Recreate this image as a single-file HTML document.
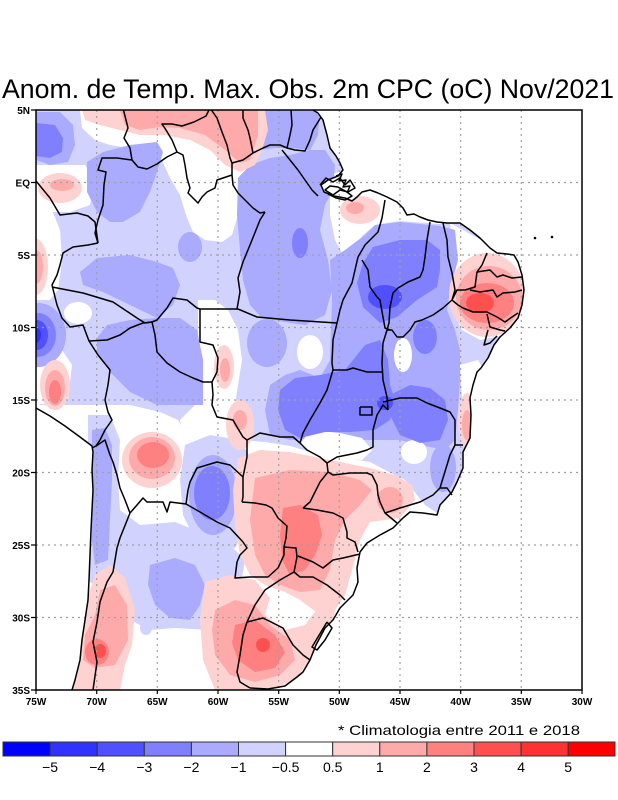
<!DOCTYPE html>
<html><head><meta charset="utf-8"><style>
html,body{margin:0;padding:0;background:#fff;}
svg{display:block;}
text{font-family:"Liberation Sans",sans-serif;}
</style></head><body>
<svg width="618" height="800" viewBox="0 0 618 800" xmlns="http://www.w3.org/2000/svg">
<defs>
<clipPath id="land"><path d="M36,110 L313,110 L318,113 L323,120 L327,135 L330,148 L336,156 L340,163 L343,170 L338,176 L328,180 L321,185 L324,192 L334,196 L345,198 L352,201 L357,197 L362,192 L370,190 L378,193 L387,197 L397,202 L403,208 L407,215 L414,214 L420,217 L428,220 L437,222 L447,223 L460,223 L470,230 L480,238 L490,248 L497,253 L507,254 L514,255 L518,262 L522,275 L524,290 L522,305 L518,318 L510,328 L500,337 L494,345 L488,358 L481,368 L477,372 L473,385 L470,398 L471,415 L470,438 L463,452 L463,468 L457,482 L452,492 L440,505 L437,515 L423,513 L410,512 L403,518 L393,528 L380,535 L367,543 L360,552 L357,568 L358,582 L353,595 L340,608 L333,620 L325,628 L316,645 L310,660 L303,672 L297,677 L285,686 L275,690 L72,690 L75,680 L80,660 L82,640 L85,620 L88,600 L89,580 L90,555 L91,530 L92,510 L93,490 L92,470 L93,452 L92,446 L80,437 L65,426 L50,416 L36,408 Z"/></clipPath>
<clipPath id="frame"><rect x="36" y="110" width="546" height="580"/></clipPath>
</defs>
<rect width="618" height="800" fill="#fff"/>
<text x="2" y="98" font-size="27" textLength="612" lengthAdjust="spacingAndGlyphs" fill="#000">Anom. de Temp. Max. Obs. 2m CPC (oC) Nov/2021</text>

<g clip-path="url(#land)">
<!-- lavender -->
<path fill="#d2d2ff" d="M36,110 L600,110 L600,520 L455,515 L440,515 L425,505 L405,480 L385,470 L370,462 L345,458 L310,452 L290,446 L265,442 L240,440 L215,445 L190,440 L178,420 L160,412 L130,405 L36,405 Z"/>
<!-- whites -->
<g fill="#fff">
<path d="M80,110 L260,110 L262,130 L258,150 L248,168 L243,190 L238,215 L232,235 L222,242 L205,240 L193,232 L186,215 L180,195 L170,178 L162,160 L150,150 L130,148 L110,145 L95,140 L82,128 Z"/>
<path d="M36,165 L85,165 L95,180 L90,205 L70,212 L50,212 L36,215 Z"/>
<path d="M36,200 L50,205 L60,230 L62,260 L58,290 L50,300 L36,300 Z"/>
<path d="M36,350 L62,350 L72,365 L68,400 L36,405 Z"/>
<ellipse cx="78" cy="313" rx="14" ry="11"/>
<path d="M198,300 L215,300 L228,310 L238,330 L242,360 L238,385 L235,405 L232,440 L220,448 L205,448 L185,445 L180,420 L195,405 L200,380 L198,340 Z"/>
<path d="M450,223 L490,245 L530,250 L530,345 L505,335 L480,340 L462,330 L452,310 L450,285 L455,260 Z"/>
<path d="M330,175 L345,170 L375,180 L400,190 L420,205 L445,216 L458,222 L440,224 L400,221 L375,225 L362,236 L358,252 L343,255 L335,240 L330,215 Z"/>
<path d="M460,365 L478,360 L490,380 L485,400 L462,400 Z"/>
</g>
<path fill="#d2d2ff" d="M185,445 L210,435 L240,440 L252,460 L250,500 L245,530 L235,548 L215,550 L195,540 L183,515 L180,480 Z"/>
<path fill="#d2d2ff" d="M88,415 L110,415 L120,440 L118,480 L120,510 L140,525 L175,522 L195,530 L230,545 L245,560 L240,590 L230,615 L210,630 L175,628 L150,630 L130,620 L115,600 L100,590 L88,580 Z"/>
<ellipse cx="146" cy="628" rx="6" ry="7" fill="#d2d2ff"/>

<!-- aaaaff -->
<g fill="#aaaaff">
<path d="M36,112 L60,112 L73,125 L75,145 L68,162 L50,165 L36,160 Z"/>
<path d="M87,162 L103,152 L130,145 L157,142 L163,152 L157,172 L150,192 L140,212 L123,222 L110,222 L97,212 L87,192 Z"/>
<path d="M80,272 L97,258 L130,255 L157,262 L173,268 L180,285 L173,305 L157,318 L130,305 L103,292 L83,285 Z"/>
<ellipse cx="190" cy="247" rx="12" ry="15"/>
<path d="M238,178 L250,165 L270,158 L290,155 L310,150 L325,150 L335,165 L333,190 L325,205 L320,230 L328,260 L332,290 L325,315 L305,325 L285,322 L262,318 L250,305 L243,280 L240,250 L237,215 Z"/>
<path d="M245,110 L320,110 L318,135 L310,150 L292,148 L275,148 L260,150 L248,140 Z"/>
<path d="M97,338 L107,325 L130,320 L157,318 L180,318 L197,330 L203,360 L203,405 L180,405 L157,405 L130,392 L110,372 L97,352 Z"/>
<ellipse cx="267" cy="343" rx="20" ry="24"/>
<path d="M330,260 L345,250 L365,235 L375,225 L400,222 L440,226 L455,230 L458,260 L450,290 L447,310 L455,330 L460,350 L460,380 L458,410 L455,440 L445,450 L420,445 L400,440 L375,440 L350,440 L320,438 L290,440 L270,435 L265,410 L270,385 L285,375 L300,370 L320,378 L330,360 L332,300 Z"/>
<ellipse cx="443" cy="468" rx="13" ry="24"/>
<ellipse cx="213" cy="495" rx="24" ry="40"/>
<path d="M92,430 L105,428 L112,445 L112,480 L110,520 L108,560 L95,565 L92,540 Z"/>
<path d="M150,565 L175,558 L195,565 L205,585 L200,605 L190,620 L170,618 L155,605 L148,585 Z"/>
<ellipse cx="38" cy="335" rx="28" ry="32"/>
</g>
<g fill="#fff">
<ellipse cx="310" cy="352" rx="13" ry="17"/>
<ellipse cx="403" cy="355" rx="9" ry="17"/>
<path d="M300,445 L310,430 L340,433 L362,438 L372,450 L362,460 L335,458 L310,452 Z"/>
<ellipse cx="414" cy="452" rx="13" ry="12"/>
</g>

<!-- 8080ff -->
<g fill="#8080ff">
<path d="M36,123 L55,125 L63,138 L62,152 L50,158 L36,156 Z"/>
<ellipse cx="300" cy="243" rx="8" ry="15"/>
<path d="M363,263 L373,247 L400,240 L427,240 L440,250 L440,270 L437,287 L417,300 L397,317 L380,323 L363,307 L357,283 Z"/>
<path d="M280,390 L295,378 L320,375 L345,370 L365,345 L380,340 L388,360 L390,385 L395,400 L390,420 L375,430 L350,432 L325,432 L300,438 L285,430 L278,410 Z"/>
<path d="M390,395 L410,385 L430,388 L445,400 L448,420 L440,440 L420,443 L400,435 L390,415 Z"/>
<ellipse cx="425" cy="337" rx="12" ry="17"/>
<ellipse cx="212" cy="493" rx="18" ry="27"/>
<ellipse cx="38" cy="335" rx="18" ry="22"/>
</g>
<g fill="#5050ff">
<ellipse cx="37" cy="335" rx="11" ry="15"/>
<ellipse cx="385" cy="297" rx="17" ry="12"/>
<ellipse cx="385" cy="403" rx="8" ry="7"/>
</g>
<ellipse cx="36" cy="335" rx="5" ry="8" fill="#3232ff"/>

<!-- pinks -->
<path fill="#ffd2d2" d="M82,110 L265,110 L268,130 L262,150 L255,165 L240,172 L225,165 L210,150 L190,140 L165,135 L140,135 L120,130 L100,125 L85,120 Z"/>
<path fill="#ffaaaa" d="M120,110 L258,110 L258,135 L250,160 L240,163 L225,150 L205,135 L180,128 L160,127 L140,130 L125,125 Z"/>
<ellipse cx="60" cy="188" rx="22" ry="15" fill="#ffd2d2"/>
<ellipse cx="62" cy="185" rx="12" ry="6" fill="#ffaaaa"/>
<ellipse cx="36" cy="267" rx="12" ry="28" fill="#ffd2d2"/>
<ellipse cx="36" cy="267" rx="7" ry="17" fill="#ffaaaa"/>
<ellipse cx="55" cy="385" rx="15" ry="25" fill="#ffd2d2"/>
<ellipse cx="55" cy="388" rx="10" ry="18" fill="#ffaaaa"/>
<ellipse cx="55" cy="392" rx="6" ry="12" fill="#ff8080"/>
<ellipse cx="360" cy="210" rx="20" ry="14" fill="#ffd2d2"/>
<ellipse cx="355" cy="208" rx="9" ry="6" fill="#ffaaaa"/>
<ellipse cx="487" cy="295" rx="38" ry="42" fill="#ffd2d2"/>
<ellipse cx="489" cy="298" rx="33" ry="32" fill="#ffaaaa"/>
<ellipse cx="487" cy="303" rx="27" ry="20" fill="#ff8080"/>
<ellipse cx="480" cy="303" rx="14" ry="10" fill="#ff5050"/>
<ellipse cx="467" cy="420" rx="9" ry="27" fill="#ffd2d2"/>
<ellipse cx="467" cy="425" rx="5" ry="15" fill="#ffaaaa"/>
<ellipse cx="224" cy="367" rx="10" ry="22" fill="#ffd2d2"/>
<ellipse cx="225" cy="370" rx="5" ry="12" fill="#ffaaaa"/>
<ellipse cx="240" cy="425" rx="14" ry="25" fill="#ffd2d2"/>
<ellipse cx="240" cy="420" rx="7" ry="10" fill="#ffaaaa"/>
<ellipse cx="152" cy="460" rx="30" ry="28" fill="#ffd2d2"/>
<ellipse cx="152" cy="458" rx="23" ry="21" fill="#ffaaaa"/>
<ellipse cx="153" cy="455" rx="16" ry="13" fill="#ff8080"/>
<path fill="#ffd2d2" d="M238,458 L260,450 L290,452 L310,456 L340,462 L370,468 L395,475 L412,485 L415,500 L400,518 L370,522 L360,540 L352,570 L345,595 L335,610 L320,615 L300,600 L285,592 L265,585 L250,575 L240,555 L235,525 L233,490 Z"/>
<path fill="#ffaaaa" d="M255,478 L290,470 L330,472 L360,480 L372,490 L360,505 L345,520 L335,540 L330,570 L320,590 L300,592 L280,585 L265,575 L255,555 L250,520 Z"/>
<ellipse cx="390" cy="500" rx="13" ry="13" fill="#ffaaaa"/>
<path fill="#ff8080" d="M283,508 L300,505 L318,515 L322,535 L315,555 L305,570 L290,575 L282,560 L280,535 Z"/>
<path fill="#ffd2d2" d="M205,582 L230,575 L255,580 L270,598 L265,615 L285,630 L305,625 L320,605 L335,610 L330,640 L310,660 L295,680 L270,690 L215,690 L203,660 L200,620 Z"/>
<path fill="#ffaaaa" d="M215,610 L235,600 L255,605 L270,625 L290,640 L295,660 L280,675 L255,682 L230,675 L215,655 L212,630 Z"/>
<path fill="#ff8080" d="M235,625 L255,620 L275,635 L285,652 L275,668 L255,672 L238,660 L232,643 Z"/>
<ellipse cx="263" cy="645" rx="7" ry="7" fill="#ff5050"/>
<path fill="#ffd2d2" d="M95,575 L110,565 L125,578 L135,610 L132,645 L125,665 L120,690 L72,690 L78,650 L85,615 L90,590 Z"/>
<path fill="#ffaaaa" d="M100,590 L115,585 L127,605 L128,640 L115,665 L95,668 L83,660 L85,635 L95,615 Z"/>
<ellipse cx="97" cy="652" rx="12" ry="13" fill="#ff8080"/>
<ellipse cx="100" cy="651" rx="6" ry="7" fill="#ff5050"/>
</g>

<!-- grid -->
<g stroke="#a0a0a0" stroke-width="1.2" stroke-dasharray="2 4" fill="none">
<path d="M96.7,110 V690 M157.3,110 V690 M218,110 V690 M278.7,110 V690 M339.3,110 V690 M400,110 V690 M460.7,110 V690 M521.3,110 V690"/>
<path d="M36,182.5 H582 M36,255 H582 M36,327.5 H582 M36,400 H582 M36,472.5 H582 M36,545 H582 M36,617.5 H582"/>
</g>

<!-- borders -->
<g clip-path="url(#frame)" stroke="#000" stroke-width="1.5" fill="none" stroke-linejoin="round">
<polyline points="313,110 318,113 323,120 327,135 330,148 336,156 340,163 343,170 338,176 328,180 321,185 324,192 334,196 345,198 352,201 357,197 362,192 370,190 378,193 387,197 397,202 403,208 407,215 414,214 420,217 428,220 437,222 447,223 460,223 470,230 480,238 490,248 497,253 507,254 514,255 518,262 522,275 524,290 522,305 518,318 510,328 500,337 494,345 488,358 481,368 477,372 473,385 470,398 471,415 470,438 463,452 463,468 457,482 452,492 440,505 437,515 423,513 410,512 403,518 393,528 380,535 367,543 360,552 357,568 358,582 353,595 340,608 333,620 325,628 316,645 310,660 303,672 297,677 285,686 268,689 250,688"/>
<polyline points="72,690 75,680 80,660 82,640 85,620 88,600 89,580 90,555 91,530 92,510 93,490 92,470 93,452 92,446 80,437 65,426 50,416 36,408"/>
<polyline points="320,185 326,178 333,182 340,178 345,185 350,180 355,188 348,192 340,190 333,195 325,190 330,186 338,187 347,192 352,196 345,200 336,198 328,194"/>
<polyline points="336,176 342,174 339,181 346,180 343,187 350,186 347,193"/>
<polyline points="327,622 332,628 325,640 317,650 312,647 318,637 327,622"/>
<polyline points="123,108 128,128 124,138 130,148 132,160"/>
<polyline points="132,160 138,167 147,169 157,164 167,157 177,152"/>
<polyline points="177,152 172,140 166,130 162,124 172,124 182,126 194,122 206,116 210,108"/>
<polyline points="177,152 183,155 185,165 187,178 190,188 188,193 193,198 198,203 202,197 207,192 215,188 217,180 232,175"/>
<polyline points="210,108 217,118 222,132 227,145 230,158 232,163"/>
<polyline points="232,163 243,160 253,153 263,148 270,145 280,145 287,148 295,150 305,151 310,140 313,130 318,122 321,117"/>
<polyline points="253,153 250,138 248,130 243,118 243,110"/>
<polyline points="287,148 290,135 292,125 291,110"/>
<polyline points="282,150 290,160 298,170 305,180 312,190 318,196"/>
<polyline points="232,163 232,175 233,185 238,193 247,202 253,208 260,213 265,212"/>
<polyline points="265,212 260,220 250,245 243,262 238,278 240,292 237,309"/>
<polyline points="132,160 117,158 102,158 98,170 106,172 104,185 103,205 98,220 95,233 98,243"/>
<polyline points="36,181 50,198 60,215 77,213 88,216 95,222 98,243"/>
<polyline points="98,243 88,245 73,247 63,253 60,265 57,275 52,285 57,305 62,318 70,327 83,325 89,341"/>
<polyline points="52,287 83,293 113,302 137,318 145,323 152,322"/>
<polyline points="89,341 107,340 120,335 130,328 143,323 152,322 155,335 157,352 167,363 180,372 193,378 203,382 212,382 213,395 212,405 217,417 233,420 237,427 243,437 247,440 247,457 243,477 243,497 242,502"/>
<polyline points="152,322 157,320 167,308 173,298 187,300 197,308 200,309 238,309"/>
<polyline points="200,309 200,342 213,345 218,358 217,372 212,382"/>
<polyline points="238,309 257,317 290,320 337,323"/>
<polyline points="358,257 352,283 343,300 340,310 337,323 333,340 332,363 333,370 327,390 320,403 310,420 303,433 300,443"/>
<polyline points="385,200 382,218 378,232 372,238 365,245 358,257"/>
<polyline points="362,260 368,270 370,287 377,297 380,300 383,317 385,328 390,330"/>
<polyline points="430,222 427,240 425,257 423,270 420,277 408,282 398,288 393,293 390,307 389,323 387,330"/>
<polyline points="443,223 447,240 448,257 452,273 455,290 452,300 443,308 433,315 422,320 415,322 410,330 403,337 397,337 392,330 387,330"/>
<polyline points="387,330 383,343 382,363 383,380 387,397 388,410"/>
<polyline points="333,370 347,370 353,368 367,372 383,372"/>
<polyline points="487,253 482,265 477,272 475,287 465,290 457,290 452,300"/>
<polyline points="477,272 490,270 497,277 503,275 512,278 522,277"/>
<polyline points="470,290 480,292 493,290 497,297 503,293 515,292 522,290"/>
<polyline points="452,300 458,305 463,308 473,312 487,312 497,317 505,322 512,317 518,313"/>
<polyline points="487,314 490,327 500,330 505,331"/>
<polyline points="488,330 484,345 490,343 497,336"/>
<polyline points="383,402 400,398 417,398 427,403 440,408 450,412 455,420 455,445 463,445"/>
<polyline points="300,443 307,450 320,457 327,463 337,457 357,453 367,450 373,447 373,430 377,415 383,405 388,410"/>
<polyline points="360,407 372,407 372,415 360,415 360,407"/>
<polyline points="327,463 328,472 320,482 310,502 303,508"/>
<polyline points="328,472 333,475 350,473 367,473 372,475 377,485 378,495 380,502 385,513 397,523"/>
<polyline points="385,513 400,508 420,502 433,495 440,488 447,488 452,495"/>
<polyline points="440,488 443,478 447,465 450,455 455,445"/>
<polyline points="300,443 293,437 280,437 260,433 247,440"/>
<polyline points="303,508 317,510 333,513 343,518 347,532 347,538 355,542 358,552"/>
<polyline points="298,556 313,562 323,568 333,560 343,558 360,554"/>
<polyline points="294,572 300,577 313,577 327,585 340,595 345,600"/>
<polyline points="284,547 296,548 297,557 294,572 280,580 265,590 255,605 247,622"/>
<polyline points="247,622 263,618 283,628 293,645 303,655 310,660"/>
<polyline points="247,622 243,635 240,655 237,672 240,682 250,688"/>
<polyline points="186,504 200,512 217,522 230,528 243,542 247,548 240,555 237,562 235,578 250,577 268,577 278,568 284,555 284,547"/>
<polyline points="242,502 255,503 266,505 272,508 278,518 287,526 286,538 284,547"/>
<polyline points="186,504 188,490 190,482 197,468 217,462 230,465 243,477"/>
<polyline points="186,504 170,502 167,512 163,502 147,502 143,498 137,505 130,513"/>
<polyline points="96,446 105,440 110,455 113,462 117,475 120,488 125,500 130,513"/>
<polyline points="130,513 120,538 117,548 113,572 107,582 100,602 97,622 93,642 97,662 93,690"/>
<polyline points="89,341 98,355 110,370 108,385 105,400 108,412 112,420 105,430 100,440 96,446 92,448"/>
</g>
<circle cx="535" cy="238" r="1.3" fill="#000"/>
<circle cx="552" cy="237" r="1.3" fill="#000"/>

<!-- frame & ticks -->
<rect x="36" y="110" width="546" height="580" fill="none" stroke="#000" stroke-width="1.5"/>
<g stroke="#000" stroke-width="1.2">
<path d="M31,110 H36 M31,182.5 H36 M31,255 H36 M31,327.5 H36 M31,400 H36 M31,472.5 H36 M31,545 H36 M31,617.5 H36 M31,690 H36"/>
<path d="M36,690 V694 M96.7,690 V694 M157.3,690 V694 M218,690 V694 M278.7,690 V694 M339.3,690 V694 M400,690 V694 M460.7,690 V694 M521.3,690 V694 M582,690 V694"/>
</g>
<g font-size="10" font-weight="bold" text-anchor="end" fill="#000">
<text x="30" y="114">5N</text>
<text x="30" y="186.5">EQ</text>
<text x="30" y="259">5S</text>
<text x="30" y="331.5">10S</text>
<text x="30" y="404">15S</text>
<text x="30" y="476.5">20S</text>
<text x="30" y="549">25S</text>
<text x="30" y="621.5">30S</text>
<text x="30" y="694">35S</text>
</g>
<g font-size="10" font-weight="bold" text-anchor="middle" fill="#000">
<text x="36" y="705">75W</text>
<text x="96.7" y="705">70W</text>
<text x="157.3" y="705">65W</text>
<text x="218" y="705">60W</text>
<text x="278.7" y="705">55W</text>
<text x="339.3" y="705">50W</text>
<text x="400" y="705">45W</text>
<text x="460.7" y="705">40W</text>
<text x="521.3" y="705">35W</text>
<text x="582" y="705">30W</text>
</g>

<text x="338" y="735" font-size="14" textLength="242" lengthAdjust="spacingAndGlyphs" fill="#000">* Climatologia entre 2011 e 2018</text>

<!-- colorbar -->
<g stroke="#333" stroke-width="1">
<rect x="3" y="742" width="47.1" height="14" fill="#0000ff"/>
<rect x="50.1" y="742" width="47.1" height="14" fill="#3232ff"/>
<rect x="97.2" y="742" width="47.1" height="14" fill="#5050ff"/>
<rect x="144.3" y="742" width="47.1" height="14" fill="#8080ff"/>
<rect x="191.4" y="742" width="47.1" height="14" fill="#aaaaff"/>
<rect x="238.5" y="742" width="47.1" height="14" fill="#d2d2ff"/>
<rect x="285.6" y="742" width="47.1" height="14" fill="#ffffff"/>
<rect x="332.7" y="742" width="47.1" height="14" fill="#ffd2d2"/>
<rect x="379.8" y="742" width="47.1" height="14" fill="#ffaaaa"/>
<rect x="426.9" y="742" width="47.1" height="14" fill="#ff8080"/>
<rect x="474" y="742" width="47.1" height="14" fill="#ff5050"/>
<rect x="521.1" y="742" width="47.1" height="14" fill="#ff3232"/>
<rect x="568.2" y="742" width="46.8" height="14" fill="#ff0000"/>
</g>
<g font-size="14" text-anchor="middle" fill="#000">
<text x="50.1" y="772">−5</text>
<text x="97.2" y="772">−4</text>
<text x="144.3" y="772">−3</text>
<text x="191.4" y="772">−2</text>
<text x="238.5" y="772">−1</text>
<text x="285.6" y="772">−0.5</text>
<text x="332.7" y="772">0.5</text>
<text x="379.8" y="772">1</text>
<text x="426.9" y="772">2</text>
<text x="474" y="772">3</text>
<text x="521.1" y="772">4</text>
<text x="568.2" y="772">5</text>
</g>
</svg>
</body></html>
